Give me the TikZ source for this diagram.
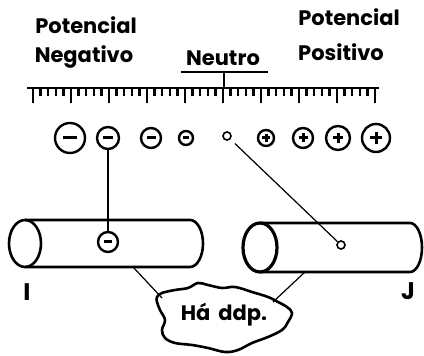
\documentclass[tikz,border=0pt]{standalone}
\usepackage{fontspec}
\setmainfont{Poppins}
\usetikzlibrary{positioning,calc}

\begin{document}
\begin{tikzpicture}[
  x=0.5pt, y=-0.5pt,
  lbl/.style={font=\fontsize{10.5}{13}\selectfont\bfseries, inner sep=0pt},
  chg/.style={draw, circle, line width=1.2pt, inner sep=0pt},
  sign/.style={line width=1.5pt},
  wire/.style={line width=0.6pt},
  tube/.style={line width=1.3pt}
]
  \useasboundingbox (0,0) rectangle (424,356);

  % titles
  \node[lbl] (potneg) at (86,25) {Potencial};
  \node[lbl] (neg) at (84,57) {Negativo};
  \node[lbl] (neutro) at (223,58) {Neutro};
  \node[lbl] (potpos) at (349,17) {Potencial};
  \node[lbl] (pos) at (341,52) {Positivo};

  % scale
  \coordinate (ul) at (181,72);
  \coordinate (ur) at (268,72);
  \coordinate (zero) at (224,88);
  \draw[line width=0.9pt] (ul) -- (ur);
  \draw[line width=0.9pt] (zero |- ul) -- (zero);
  \draw[line width=1.4pt] (27,88) -- (379,88);
  \foreach \k in {0,...,45}{
    \pgfmathsetmacro{\tl}{mod(\k,5)==0 ? 15 : 8}
    \draw[line width=1.2pt] (33+\k*7.6,88) -- ++(0,\tl);
  }

  % charges
  \foreach \x/\r [count=\i] in {70/15,108/11,151/10,186/7}{
    \node[chg, minimum size=\r pt] (n\i) at (\x,138) {};
    \draw[sign] (\x-0.45*\r,138) -- (\x+0.45*\r,138);
  }
  \node[chg, minimum size=4pt, line width=0.8pt] (n0) at (227,136) {};
  \foreach \x/\r [count=\i] in {266/8,303/10,338/12,376/14}{
    \node[chg, minimum size=\r pt] (p\i) at (\x,138) {};
    \draw[sign] (\x-0.45*\r,138) -- (\x+0.45*\r,138);
    \draw[sign] (\x,138-0.45*\r) -- (\x,138+0.45*\r);
  }

  % tubes
  \draw[tube] (25,243.5) ellipse[x radius=16, y radius=23.5];
  \draw[tube] (25,220) -- (190,220)
    arc[start angle=-90, end angle=90, x radius=13, y radius=23.5] -- (25,267);
  \draw[tube, line width=1.6pt] (260,247.5) ellipse[x radius=17, y radius=24.5];
  \draw[tube] (260,223) -- (410,223)
    arc[start angle=-90, end angle=90, x radius=12, y radius=24.5] -- (260,272);

  \node[chg, minimum size=10pt] (e1) at (108,242) {};
  \draw[sign] (104,242) -- (112,242);
  \node[chg, minimum size=4pt, line width=0.8pt] (e2) at (341,245) {};

  \draw[wire] (n2) -- (e1);
  \draw[wire, shorten <=3pt] (n0) -- (e2);

  \node[lbl, font=\fontsize{12}{14}\selectfont\bfseries] (tI) at (27,292) {I};
  \node[lbl, font=\fontsize{12}{14}\selectfont\bfseries] (tJ) at (408,291) {J};

  % cloud
  \node[lbl] (cloud) at (224,315) {Há\, ddp.};
  \draw[line width=1.3pt] plot[smooth cycle, tension=0.6] coordinates {
    (157,297) (162,293) (175,290) (188,288) (198,283) (208,285) (222,288)
    (235,287) (252,292) (268,297) (278,302) (287,307) (292,313) (288,322)
    (282,330) (268,337) (252,343) (238,350) (225,352) (208,348) (192,345)
    (175,343) (165,338) (162,330) (165,320) (160,310) (157,302)};
  \coordinate (t1) at (133,267);
  \coordinate (t2) at (305,272);
  \coordinate (k1) at (162,298);
  \coordinate (k2) at (273,302);
  \draw[wire] (t1) -- (k1);
  \draw[wire] (t2) -- (k2);
\end{tikzpicture}
\end{document}
